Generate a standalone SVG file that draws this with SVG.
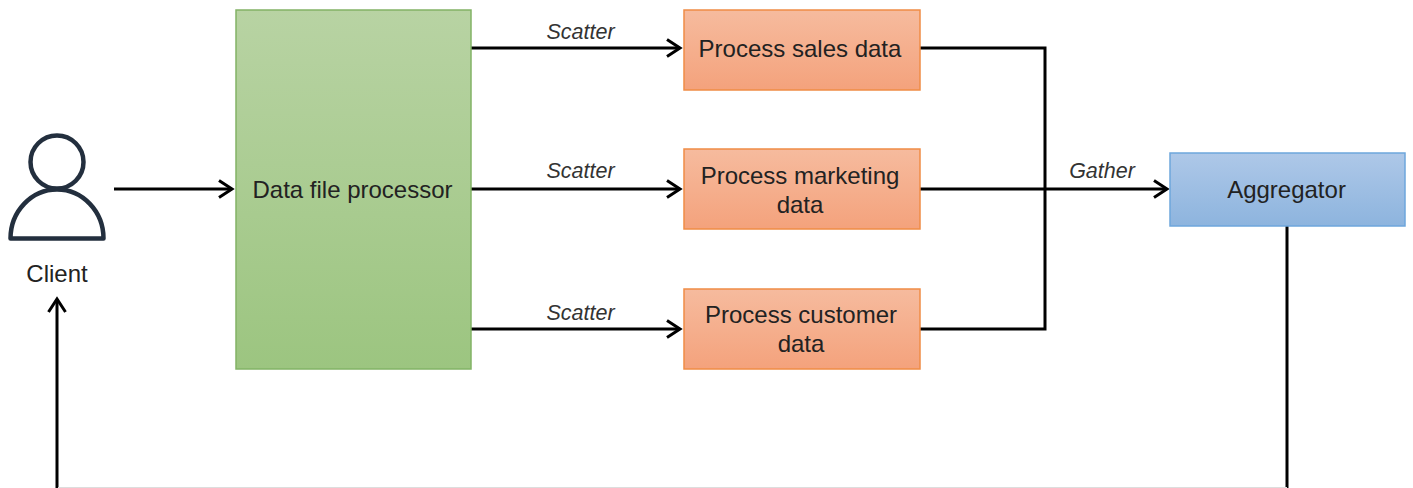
<svg xmlns="http://www.w3.org/2000/svg" width="1413" height="488" viewBox="0 0 1413 488">
<style>
text{font-family:"Liberation Sans",Arial,sans-serif;fill:#222;text-anchor:middle}
.n{font-size:24px}
.l{font-size:21.500px;font-style:italic;fill:#333}
.c{fill:none;stroke:#000;stroke-width:3}
.o{fill:url(#og);stroke:#f08c45;stroke-width:1.500}
</style>
<defs>
<linearGradient id="gg" x1="0" y1="0" x2="0" y2="1"><stop offset="0" stop-color="#b8d3a3"/><stop offset="1" stop-color="#9cc580"/></linearGradient>
<linearGradient id="og" x1="0" y1="0" x2="0" y2="1"><stop offset="0" stop-color="#f6bb9e"/><stop offset="1" stop-color="#f4a27c"/></linearGradient>
<linearGradient id="bg" x1="0" y1="0" x2="0" y2="1"><stop offset="0" stop-color="#aec8e8"/><stop offset="1" stop-color="#8db4de"/></linearGradient>
<marker id="arr" markerUnits="userSpaceOnUse" markerWidth="20" markerHeight="20" refX="15" refY="10" orient="auto"><path d="M2 1.500L15 10L2 18.500" fill="none" stroke="#000" stroke-width="3"/></marker>
</defs>
<rect width="1413" height="488" fill="#fff"/>
<g id="connectors">
<path class="c" marker-end="url(#arr)" d="M114 189H232"/>
<path class="c" marker-end="url(#arr)" d="M471 48H680"/>
<path class="c" marker-end="url(#arr)" d="M471 189H680"/>
<path class="c" marker-end="url(#arr)" d="M471 329H680"/>
<path class="c" d="M920 48H1045V329H920"/>
<path class="c" marker-end="url(#arr)" d="M920 189H1167"/>
<path class="c" marker-end="url(#arr)" d="M1287 226V490H57V299"/>
<rect x="58" y="487" width="1229" height="1" fill="#ddd"/>
<text class="l" x="580.500" y="39">Scatter</text>
<text class="l" x="580.500" y="178">Scatter</text>
<text class="l" x="580.500" y="320">Scatter</text>
<text class="l" x="1102" y="178">Gather</text>
</g>
<g id="client">
<circle cx="57" cy="162" r="26.500" fill="#fff" stroke="#232f3e" stroke-width="4.500"/>
<path d="M10.500 238.500A46.500 49 0 0 1 103.500 238.500Z" fill="#fff" stroke="#232f3e" stroke-width="4.500" stroke-linejoin="round"/>
<text class="n" x="57" y="282">Client</text>
</g>
<g id="data-file-processor">
<rect x="236" y="10" width="235" height="359" fill="url(#gg)" stroke="#82b366" stroke-width="1.500"/>
<text class="n" x="352.500" y="198">Data file processor</text>
</g>
<g id="process-sales">
<rect class="o" x="684" y="10" width="236" height="80"/>
<text class="n" x="800" y="57">Process sales data</text>
</g>
<g id="process-marketing">
<rect class="o" x="684" y="149" width="236" height="80"/>
<text class="n" x="800" y="184">Process marketing</text>
<text class="n" x="800" y="213">data</text>
</g>
<g id="process-customer">
<rect class="o" x="684" y="289" width="236" height="80"/>
<text class="n" x="801" y="323">Process customer</text>
<text class="n" x="801" y="352">data</text>
</g>
<g id="aggregator">
<rect x="1170" y="153" width="235" height="73" fill="url(#bg)" stroke="#6ea6dc" stroke-width="1.500"/>
<text class="n" x="1286.500" y="198">Aggregator</text>
</g>
</svg>
